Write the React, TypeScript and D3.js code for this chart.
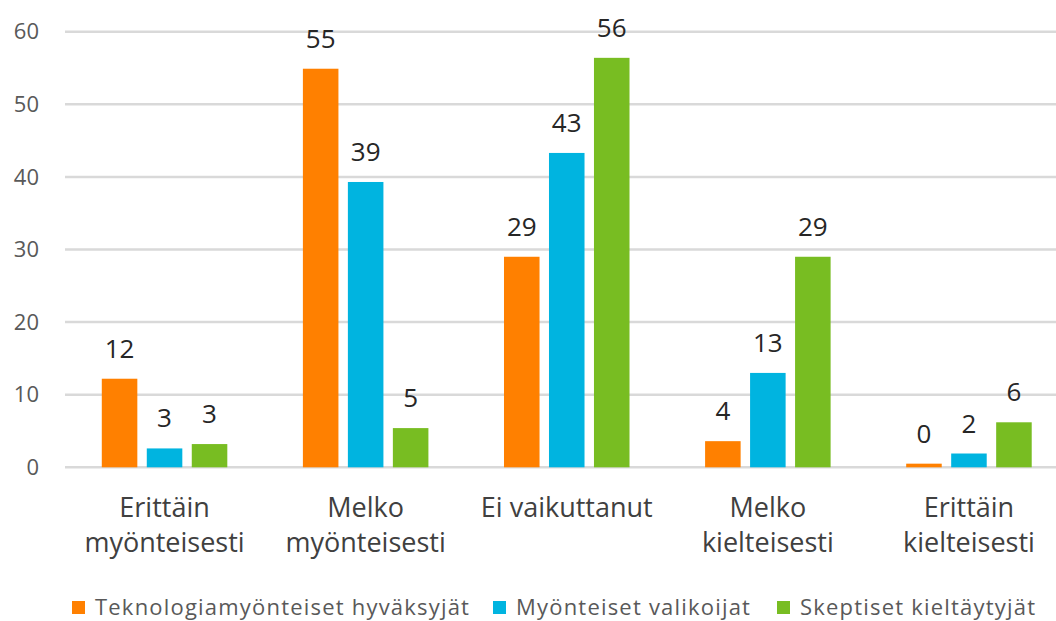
import * as d3 from "d3";

const categories = [
  ["Erittäin", "myönteisesti"],
  ["Melko", "myönteisesti"],
  ["Ei vaikuttanut"],
  ["Melko", "kielteisesti"],
  ["Erittäin", "kielteisesti"],
];

const seriesNames = [
  "Teknologiamyönteiset hyväksyjät",
  "Myönteiset valikoijat",
  "Skeptiset kieltäytyjät",
];

const seriesColors = ["#ff8000", "#00b4e0", "#78bd22"];

// bar heights, labels are the rounded ones shown
const hyvaksyjat = [12.2, 54.9, 29.0, 3.6, 0.5];
const valikoijat = [2.6, 39.3, 43.3, 13.0, 1.9];
const kieltaytyjat = [3.2, 5.4, 56.4, 29.0, 6.2];

const hyvaksyjatLabels = [12, 55, 29, 4, 0];
const valikoijatLabels = [3, 39, 43, 13, 2];
const kieltaytyjatLabels = [3, 5, 56, 29, 6];

const yTicks = [0, 10, 20, 30, 40, 50, 60];

const values = [hyvaksyjat, valikoijat, kieltaytyjat];
const labels = [hyvaksyjatLabels, valikoijatLabels, kieltaytyjatLabels];

export default function App() {
  const width = 1056;
  const height = 621;
  const font = "'Open Sans', 'DejaVu Sans', sans-serif";

  const x0 = d3
    .scaleBand<number>()
    .domain(categories.map((_, i) => i))
    .range([64, 1069.5]);

  const x1 = d3
    .scaleBand<number>()
    .domain(seriesNames.map((_, i) => i))
    .range([0, x0.bandwidth()])
    .paddingInner(0.21)
    .paddingOuter(0.84);

  const y = d3.scaleLinear().domain([0, 60]).range([467.3, 31.7]);

  const legendX = [72, 493, 777];

  return (
    <svg
      width={width}
      height={height}
      style={{ position: "absolute", left: 0, top: 0, background: "#fff" }}
      fontFamily={font}
    >
      <g id="grid">
        {yTicks.map((t) => (
          <line
            key={t}
            x1={65}
            x2={width}
            y1={y(t)}
            y2={y(t)}
            stroke="#d9d9d9"
            strokeWidth={2.5}
          />
        ))}
      </g>
      <g id="y-axis">
        {yTicks.map((t) => (
          <text
            key={t}
            x={39}
            y={y(t)}
            dy="0.35em"
            textAnchor="end"
            fontSize={22}
            fill="#595959"
          >
            {t}
          </text>
        ))}
      </g>
      <g id="bars">
        {categories.map((_, ci) => (
          <g key={ci} transform={`translate(${x0(ci)},0)`}>
            {values.map((series, si) => {
              const v = series[ci];
              return (
                <g key={si}>
                  <rect
                    x={x1(si)}
                    y={y(v)}
                    width={x1.bandwidth()}
                    height={y(0) - y(v)}
                    fill={seriesColors[si]}
                  />
                  <text
                    x={(x1(si) ?? 0) + x1.bandwidth() / 2}
                    y={y(v) - 21}
                    textAnchor="middle"
                    fontSize={26}
                    fill="#262626"
                  >
                    {labels[si][ci]}
                  </text>
                </g>
              );
            })}
          </g>
        ))}
      </g>
      <g id="x-axis">
        {categories.map((lines, ci) => (
          <text
            key={ci}
            x={(x0(ci) ?? 0) + x0.bandwidth() / 2}
            y={517}
            textAnchor="middle"
            fontSize={27}
            fill="#404040"
          >
            {lines.map((l, li) => (
              <tspan
                key={li}
                x={(x0(ci) ?? 0) + x0.bandwidth() / 2}
                dy={li === 0 ? 0 : 35}
              >
                {l}
              </tspan>
            ))}
          </text>
        ))}
      </g>
      <g id="legend">
        {seriesNames.map((name, i) => (
          <g key={i} transform={`translate(${legendX[i]},0)`}>
            <rect x={0} y={601} width={13} height={13} fill={seriesColors[i]} />
            <text
              x={23}
              y={615}
              fontSize={22}
              letterSpacing={1.2}
              fill="#595959"
            >
              {name}
            </text>
          </g>
        ))}
      </g>
    </svg>
  );
}
